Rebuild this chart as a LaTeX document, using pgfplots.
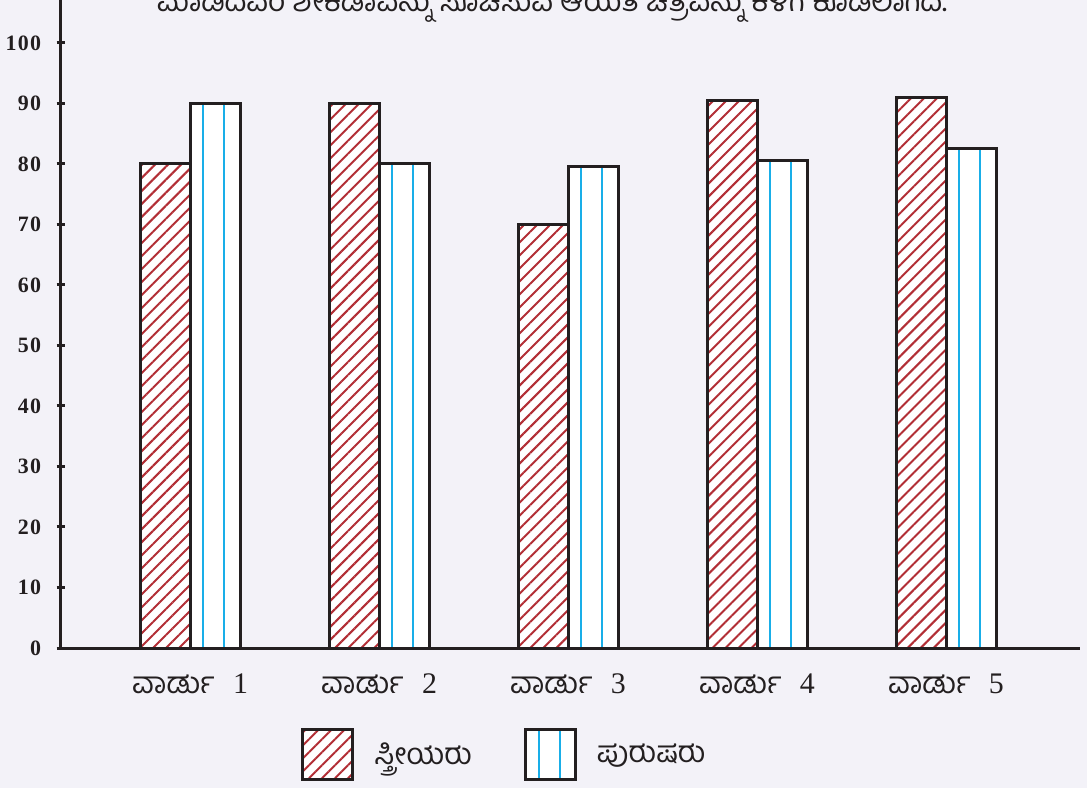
\documentclass[border=0pt]{standalone}
\usepackage{fontspec}
\setmainfont{Liberation Serif}
\newfontfamily\tickfont[LetterSpace=6]{Liberation Serif}
\newfontfamily\kn[Script=Kannada]{Hind Mysuru}
\usepackage{pgfplots}
\pgfplotsset{compat=1.18}
\usetikzlibrary{patterns.meta}
\definecolor{bgc}{HTML}{F3F2F8}
\definecolor{knred}{HTML}{B22E35}
\definecolor{kncyan}{HTML}{19AEE8}
\definecolor{axc}{HTML}{231F20}
\begin{document}
\begin{tikzpicture}
\fill[bgc] (0,0) rectangle (543.5bp,394bp);
\node[anchor=base, font=\kn\fontsize{15}{18}\selectfont, text=axc] at (276bp,388bp)
  {ಮಾಡಿದವರ ಶೇಕಡಾವನ್ನು ಸೂಚಿಸುವ ಆಯತ ಚಿತ್ರವನ್ನು ಕೆಳಗೆ ಕೊಡಲಾಗಿದೆ.};
\begin{axis}[
  at={(30.5bp,70bp)}, anchor=south west,
  width=509.5bp, height=324bp, scale only axis,
  xmin=0.317, xmax=5.709, ymin=0, ymax=107.1,
  axis lines*=left,
  axis line style={line width=1.5bp, color=axc},
  ybar=0pt, bar width=25bp,
  xtick={1,2,3,4,5},
  xticklabels={{\kn ವಾರ್ಡು}\hspace{0.6em}1,{\kn ವಾರ್ಡು}\hspace{0.6em}2,{\kn ವಾರ್ಡು}\hspace{0.6em}3,{\kn ವಾರ್ಡು}\hspace{0.6em}4,{\kn ವಾರ್ಡು}\hspace{0.6em}5},
  major x tick style={draw=none},
  xticklabel style={font=\fontsize{15}{18}\selectfont, text=axc, anchor=north, yshift=-7bp},
  ytick={0,10,...,100},
  tick align=center,
  major tick length=4.5bp,
  major y tick style={line width=1.5bp, color=axc},
  yticklabel style={font=\tickfont\bfseries\fontsize{11}{13}\selectfont, text=axc, inner sep=0pt, xshift=-7.5bp},
  /pgf/number format/assume math mode=true,
  legend style={at={(0.2355,0)}, anchor=north west, yshift=-40bp, draw=none, fill=none,
    font=\kn\fontsize{15}{18}\selectfont, text=axc, inner sep=0pt,
    /tikz/every odd column/.append style={column sep=8bp},
    /tikz/every even column/.append style={column sep=24bp}},
  legend columns=2,
  legend cell align=left,
  legend image code/.code={\draw[#1] (0bp,-12.5bp) rectangle (25bp,12.5bp);},
]
\addplot[draw=axc, line width=1.5bp, fill=white,
  postaction={pattern={Lines[angle=45,distance=4.6bp,line width=1bp]}, pattern color=knred}]
  coordinates {(1,80) (2,90) (3,70) (4,90.5) (5,91)};
\addlegendentry{ಸ್ತ್ರೀಯರು}
\addplot[draw=axc, line width=1.5bp, fill=white,
  postaction={pattern={Lines[angle=90,distance=10.5bp,line width=1.1bp,xshift=-3.5bp]}, pattern color=kncyan}]
  coordinates {(1,90) (2,80) (3,79.5) (4,80.5) (5,82.5)};
\addlegendentry{ಪುರುಷರು}
\end{axis}
\pgfresetboundingbox
\useasboundingbox (0,0) rectangle (543.5bp,394bp);
\end{tikzpicture}
\end{document}
